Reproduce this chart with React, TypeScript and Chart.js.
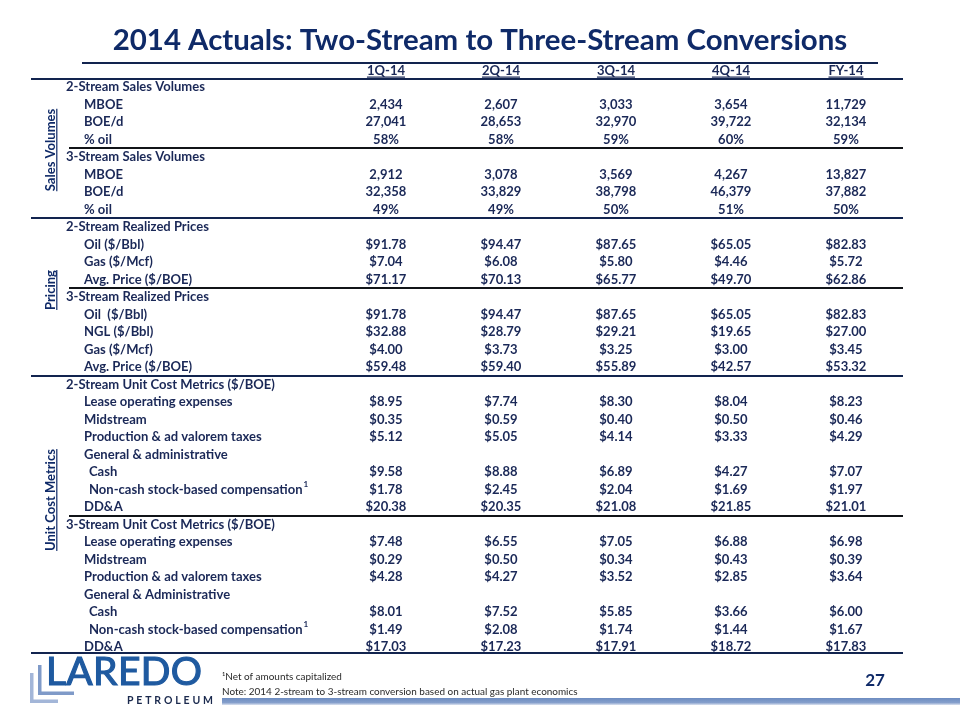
import React, { useEffect, useRef } from 'react';
import { Chart, registerables } from 'chart.js';

Chart.register(...registerables);

// ---------- content ----------
const TITLE = '2014 Actuals: Two-Stream to Three-Stream Conversions';
const COLUMNS = ['1Q-14', '2Q-14', '3Q-14', '4Q-14', 'FY-14'];

const ROW_LABELS = [
  '2-Stream Sales Volumes', 'MBOE', 'BOE/d', '% oil',
  '3-Stream Sales Volumes', 'MBOE', 'BOE/d', '% oil',
  '2-Stream Realized Prices', 'Oil ($/Bbl)', 'Gas ($/Mcf)', 'Avg. Price ($/BOE)',
  '3-Stream Realized Prices', 'Oil  ($/Bbl)', 'NGL ($/Bbl)', 'Gas ($/Mcf)', 'Avg. Price ($/BOE)',
  '2-Stream Unit Cost Metrics ($/BOE)', 'Lease operating expenses', 'Midstream',
  'Production & ad valorem taxes', 'General & administrative', 'Cash',
  'Non-cash stock-based compensation', 'DD&A',
  '3-Stream Unit Cost Metrics ($/BOE)', 'Lease operating expenses', 'Midstream',
  'Production & ad valorem taxes', 'General & Administrative', 'Cash',
  'Non-cash stock-based compensation', 'DD&A',
];

// hierarchy: 0 = section heading, 1 = item, 2 = sub-item
const ROW_LEVEL = [
  0, 1, 1, 1,
  0, 1, 1, 1,
  0, 1, 1, 1,
  0, 1, 1, 1, 1,
  0, 1, 1, 1, 1, 2, 2, 1,
  0, 1, 1, 1, 1, 2, 2, 1,
];

// n = count, % = percent, $ = dollars
const ROW_UNIT = [
  '', 'n', 'n', '%',
  '', 'n', 'n', '%',
  '', '$', '$', '$',
  '', '$', '$', '$', '$',
  '', '$', '$', '$', '', '$', '$', '$',
  '', '$', '$', '$', '', '$', '$', '$',
];

const FOOTNOTE_ROWS = [23, 31];

const Q1_14 = [null, 2434, 27041, 58, null, 2912, 32358, 49, null, 91.78, 7.04, 71.17, null, 91.78, 32.88, 4.0, 59.48, null, 8.95, 0.35, 5.12, null, 9.58, 1.78, 20.38, null, 7.48, 0.29, 4.28, null, 8.01, 1.49, 17.03];
const Q2_14 = [null, 2607, 28653, 58, null, 3078, 33829, 49, null, 94.47, 6.08, 70.13, null, 94.47, 28.79, 3.73, 59.4, null, 7.74, 0.59, 5.05, null, 8.88, 2.45, 20.35, null, 6.55, 0.5, 4.27, null, 7.52, 2.08, 17.23];
const Q3_14 = [null, 3033, 32970, 59, null, 3569, 38798, 50, null, 87.65, 5.8, 65.77, null, 87.65, 29.21, 3.25, 55.89, null, 8.3, 0.4, 4.14, null, 6.89, 2.04, 21.08, null, 7.05, 0.34, 3.52, null, 5.85, 1.74, 17.91];
const Q4_14 = [null, 3654, 39722, 60, null, 4267, 46379, 51, null, 65.05, 4.46, 49.7, null, 65.05, 19.65, 3.0, 42.57, null, 8.04, 0.5, 3.33, null, 4.27, 1.69, 21.85, null, 6.88, 0.43, 2.85, null, 3.66, 1.44, 18.72];
const FY_14 = [null, 11729, 32134, 59, null, 13827, 37882, 50, null, 82.83, 5.72, 62.86, null, 82.83, 27.0, 3.45, 53.32, null, 8.23, 0.46, 4.29, null, 7.07, 1.97, 21.01, null, 6.98, 0.39, 3.64, null, 6.0, 1.67, 17.83];

const SERIES = [Q1_14, Q2_14, Q3_14, Q4_14, FY_14];

const SECTION_NAMES = ['Sales Volumes', 'Pricing', 'Unit Cost Metrics'];
const FOOTNOTES = [
  '\u00B9Net of amounts capitalized',
  'Note: 2014 2-stream to 3-stream conversion based on actual gas plant economics',
];
const PAGE_NUMBER = '27';
const LOGO_NAME = 'LAREDO';
const LOGO_SUB = 'PETROLEUM';

// ---------- layout / style (not data) ----------
const FONT = "Lato, 'Noto Sans', sans-serif";
const TITLE_COLOR = '#0f2a68';
const TEXT_COLOR = '#1a2857';
const LINE_COLOR = '#12244f';
const SECTION_CENTERS = [3.6, 11.6, 23.6];
const SEPARATORS = [
  { at: 3.5, full: false },
  { at: 7.5, full: true },
  { at: 11.5, full: false },
  { at: 16.5, full: true },
  { at: 24.5, full: false },
  { at: 32.35, full: true },
];
const LEVEL_INDENT = [35, 53, 58];

function fitSize(text: string, weight: string, target: number) {
  const c = document.createElement('canvas').getContext('2d')!;
  c.font = `${weight} 100px ${FONT}`;
  return (100 * target) / c.measureText(text).width;
}

function fmt(v: number, unit: string) {
  if (unit === 'n') return v.toLocaleString('en-US');
  if (unit === '%') return `${v}%`;
  return `$${v.toFixed(2)}`;
}

function spacedText(ctx: CanvasRenderingContext2D, text: string, x: number, y: number, width: number, stroke = 0) {
  const chars = text.split('');
  const natural = chars.reduce((s, ch) => s + ctx.measureText(ch).width, 0);
  const gap = chars.length > 1 ? (width - natural) / (chars.length - 1) : 0;
  let cx = x;
  ctx.textAlign = 'left';
  for (const ch of chars) {
    ctx.fillText(ch, cx, y);
    if (stroke > 0) {
      ctx.lineWidth = stroke;
      ctx.strokeStyle = ctx.fillStyle as string;
      ctx.strokeText(ch, cx, y);
    }
    cx += ctx.measureText(ch).width + gap;
  }
}

export default function App() {
  const ref = useRef<HTMLCanvasElement | null>(null);

  useEffect(() => {
    document.body.style.margin = '0';
    const canvas = ref.current;
    if (!canvas) return;

    const titleSize = fitSize(TITLE, 'bold', 735);
    const cellSize = fitSize(ROW_LABELS[0], 'bold', 139);
    const noteSize = fitSize(FOOTNOTES[1], 'normal', 356);

    const tablePlugin = {
      id: 'tableText',
      afterDraw(chart: any) {
        const { ctx, chartArea } = chart;
        const xs = chart.scales.x;
        const ys = chart.scales.y;
        ctx.save();

        // title
        ctx.fillStyle = TITLE_COLOR;
        ctx.font = `bold ${titleSize}px ${FONT}`;
        ctx.textAlign = 'center';
        ctx.textBaseline = 'alphabetic';
        ctx.fillText(TITLE, 480, 50);
        ctx.fillStyle = LINE_COLOR;
        ctx.fillRect(82, 62, 796, 2);

        // column headers
        ctx.font = `bold ${cellSize}px ${FONT}`;
        ctx.textBaseline = 'middle';
        const hy = ys.getPixelForValue(-0.92);
        COLUMNS.forEach((c, i) => {
          const px = xs.getPixelForValue(i);
          ctx.fillStyle = TEXT_COLOR;
          ctx.textAlign = 'center';
          ctx.fillText(c, px, hy);
          const w = ctx.measureText(c).width;
          ctx.fillRect(px - w / 2, 76.5, w, 1.2);
        });
        ctx.fillStyle = LINE_COLOR;
        ctx.fillRect(chartArea.left, 78, chartArea.right - chartArea.left, 2);

        // row labels
        ctx.fillStyle = TEXT_COLOR;
        ctx.textAlign = 'left';
        ROW_LABELS.forEach((label, r) => {
          const py = ys.getPixelForValue(r);
          const px = chartArea.left + LEVEL_INDENT[ROW_LEVEL[r]];
          ctx.font = `bold ${cellSize}px ${FONT}`;
          ctx.fillText(label, px, py);
          if (FOOTNOTE_ROWS.includes(r)) {
            const w = ctx.measureText(label).width;
            ctx.font = `bold ${cellSize * 0.62}px ${FONT}`;
            ctx.fillText('1', px + w + 1, py - 5);
          }
        });

        // cell values, placed at each dataset element
        ctx.font = `bold ${cellSize}px ${FONT}`;
        ctx.textAlign = 'center';
        chart.data.datasets.forEach((ds: any, di: number) => {
          const meta = chart.getDatasetMeta(di);
          meta.data.forEach((el: any, i: number) => {
            const d = ds.data[i];
            ctx.fillText(fmt(d.v, ROW_UNIT[d.y]), el.x, el.y);
          });
        });

        // separators
        SEPARATORS.forEach((s) => {
          const py = Math.round(ys.getPixelForValue(s.at));
          const x0 = s.full ? chartArea.left : chartArea.left + 38;
          ctx.fillStyle = s.full ? LINE_COLOR : '#111418';
          ctx.fillRect(x0, py - 1, chartArea.right - x0, 2);
        });

        // rotated section labels
        ctx.font = `bold ${cellSize}px ${FONT}`;
        SECTION_NAMES.forEach((name, i) => {
          const cy = ys.getPixelForValue(SECTION_CENTERS[i]);
          const bx = chartArea.left + 24;
          const w = ctx.measureText(name).width;
          ctx.save();
          ctx.translate(bx, cy);
          ctx.rotate(-Math.PI / 2);
          ctx.fillStyle = TITLE_COLOR;
          ctx.textAlign = 'center';
          ctx.textBaseline = 'alphabetic';
          ctx.fillText(name, 0, 0);
          ctx.fillRect(-w / 2, 1.2, w, 1.2);
          ctx.restore();
        });

        // footnotes
        ctx.fillStyle = '#2a2a2a';
        ctx.font = `normal ${noteSize}px ${FONT}`;
        ctx.textAlign = 'left';
        ctx.textBaseline = 'middle';
        ctx.fillText(FOOTNOTES[0], 222, 677);
        ctx.fillText(FOOTNOTES[1], 222, 692);

        // page number
        ctx.fillStyle = TITLE_COLOR;
        ctx.font = `bold 17px ${FONT}`;
        ctx.textAlign = 'center';
        ctx.fillText(PAGE_NUMBER, 875, 681);

        // bottom bar
        const grad = ctx.createLinearGradient(0, 698, 0, 706);
        grad.addColorStop(0, '#6d8cc0');
        grad.addColorStop(0.6, '#86a0cc');
        grad.addColorStop(1, 'rgba(200,210,230,0.3)');
        ctx.fillStyle = grad;
        ctx.fillRect(222, 698, 738, 7);

        // logo
        ctx.fillStyle = '#a3b6d8';
        ctx.fillRect(30, 673, 3.5, 30);
        ctx.fillRect(30, 699.5, 28, 3.5);
        ctx.fillStyle = '#7f9ac8';
        ctx.fillRect(38, 665, 3.5, 30);
        ctx.fillRect(38, 691.5, 36, 3.5);
        ctx.fillStyle = '#1f5aa0';
        ctx.font = `normal 39px ${FONT}`;
        ctx.textBaseline = 'alphabetic';
        spacedText(ctx, LOGO_NAME, 46, 685, 156, 1.2);
        ctx.fillStyle = '#1b2a4e';
        ctx.font = `bold 10.5px ${FONT}`;
        spacedText(ctx, LOGO_SUB, 127, 704, 86);

        ctx.restore();
      },
    };

    const chart = new Chart(canvas, {
      type: 'scatter',
      data: {
        datasets: SERIES.map((vals, c) => ({
          label: COLUMNS[c],
          data: vals
            .map((v, r) => (v == null ? null : { x: c, y: r, v }))
            .filter((d) => d !== null) as any[],
          pointRadius: 0,
          pointHoverRadius: 0,
          showLine: false,
        })),
      },
      options: {
        animation: false,
        responsive: false,
        devicePixelRatio: 1,
        events: [],
        layout: { padding: { left: 31, right: 57, top: 78.25, bottom: 64.25 } },
        scales: {
          x: { type: 'linear', display: false, min: -3.087, max: 4.496 },
          y: { type: 'linear', display: false, reverse: true, min: -0.5, max: 32.5 },
        },
        plugins: {
          legend: { display: false },
          tooltip: { enabled: false },
          title: { display: false },
        },
      },
      plugins: [tablePlugin],
    });

    return () => chart.destroy();
  }, []);

  return (
    <div style={{ width: 960, height: 720, background: '#ffffff' }}>
      <canvas ref={ref} width={960} height={720} style={{ display: 'block' }} />
    </div>
  );
}
